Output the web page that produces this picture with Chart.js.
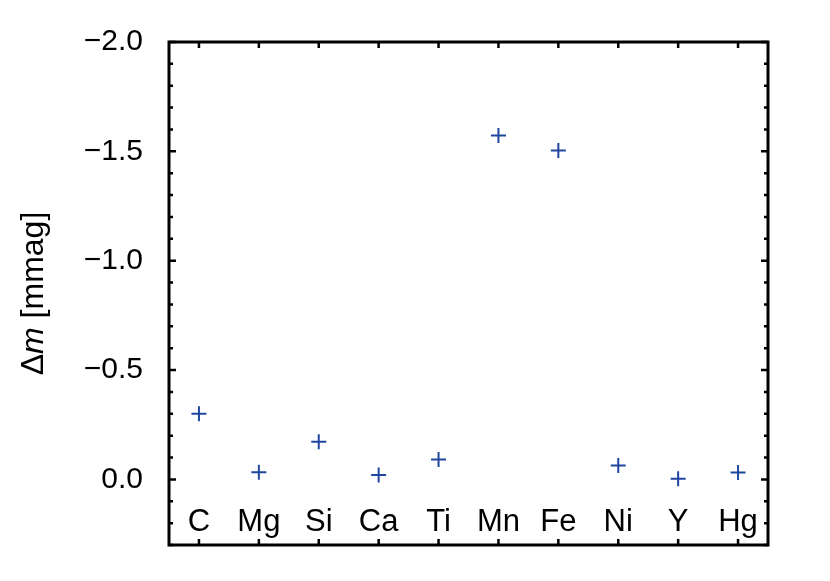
<!DOCTYPE html>
<html>
<head>
<meta charset="utf-8">
<script src="https://cdn.jsdelivr.net/npm/chart.js@4/dist/chart.umd.min.js"></script>
<style>
  html, body { margin: 0; padding: 0; background: #fff; overflow: hidden; }
  #wrap { width: 830px; height: 581px; }
</style>
</head>
<body>
<div id="wrap"><canvas id="myChart" width="830" height="581"></canvas></div>
<script>
// elements and their magnitude change (mmag)
var elements = ['C', 'Mg', 'Si', 'Ca', 'Ti', 'Mn', 'Fe', 'Ni', 'Y', 'Hg'];
var deltaMag = [-0.30, -0.033, -0.172, -0.020, -0.091, -1.573, -1.504, -0.063, -0.003, -0.031];
var yMajorTicks = [-2.0, -1.5, -1.0, -0.5, 0.0];
var yMin = -2.0;
var yMax = 0.3;

var fontName = "'Liberation Sans', Arial, Helvetica, sans-serif";
var markColor = '#1f47a0';

function fmt(v) {
  if (Math.abs(v) < 1e-9) return '0.0';
  return (v < 0 ? '\u2212' : '') + Math.abs(v).toFixed(1);
}

// frame, inward ticks, element labels inside the box, y title
var framePlugin = {
  id: 'frame',
  afterDraw: function (chart) {
    var ctx = chart.ctx;
    var a = chart.chartArea;
    var xs = chart.scales.x;
    var ys = chart.scales.y;
    ctx.save();
    ctx.strokeStyle = '#000';

    // ticks on y
    ctx.lineWidth = 2.5;
    yMajorTicks.forEach(function (v) {
      var y = ys.getPixelForValue(v);
      ctx.beginPath();
      ctx.moveTo(a.left, y); ctx.lineTo(a.left + 7, y);
      ctx.moveTo(a.right, y); ctx.lineTo(a.right - 7, y);
      ctx.stroke();
    });
    for (var k = -20; k <= 3; k++) {
      if (k % 5 === 0) continue;
      var y = ys.getPixelForValue(k / 10);
      ctx.beginPath();
      ctx.moveTo(a.left, y); ctx.lineTo(a.left + 4, y);
      ctx.moveTo(a.right, y); ctx.lineTo(a.right - 4, y);
      ctx.stroke();
    }
    // ticks on x
    elements.forEach(function (e, i) {
      var x = xs.getPixelForValue(i);
      ctx.beginPath();
      ctx.moveTo(x, a.top); ctx.lineTo(x, a.top + 6);
      ctx.moveTo(x, a.bottom); ctx.lineTo(x, a.bottom - 6);
      ctx.stroke();
    });

    // frame
    ctx.lineWidth = 3;
    ctx.strokeRect(a.left, a.top, a.right - a.left, a.bottom - a.top);

    // element names
    ctx.fillStyle = '#000';
    ctx.font = '31px ' + fontName;
    ctx.textAlign = 'center';
    ctx.textBaseline = 'alphabetic';
    elements.forEach(function (e, i) {
      ctx.fillText(e, xs.getPixelForValue(i), 531);
    });

    // y title: Δm [mmag], m in italics
    ctx.translate(43, (a.top + a.bottom) / 2);
    ctx.rotate(-Math.PI / 2);
    var parts = [['\u0394', 'normal'], ['m', 'italic'], [' [mmag]', 'normal']];
    var total = 0;
    parts.forEach(function (p) {
      ctx.font = p[1] + ' 32px ' + fontName;
      total += ctx.measureText(p[0]).width;
    });
    var x0 = -total / 2;
    ctx.textAlign = 'left';
    parts.forEach(function (p) {
      ctx.font = p[1] + ' 32px ' + fontName;
      ctx.fillText(p[0], x0, 0);
      x0 += ctx.measureText(p[0]).width;
    });
    ctx.restore();
  }
};

var myChart = document.getElementById('myChart').getContext('2d');
var chart = new Chart(myChart, {
  type: 'line',
  data: {
    labels: elements,
    datasets: [{
      label: 'dm',
      data: deltaMag,
      showLine: false,
      pointStyle: 'cross',
      pointRadius: 7.5,
      pointBorderWidth: 2,
      borderColor: markColor,
      backgroundColor: markColor
    }]
  },
  options: {
    responsive: false,
    animation: false,
    layout: { padding: { left: 0, top: 42, right: 62, bottom: 36 } },
    plugins: {
      legend: { display: false },
      tooltip: { enabled: false }
    },
    scales: {
      x: {
        type: 'category',
        offset: true,
        display: false
      },
      y: {
        reverse: true,
        min: yMin,
        max: yMax,
        grid: { display: false, drawTicks: false },
        border: { display: false },
        afterBuildTicks: function (axis) {
          axis.ticks = yMajorTicks.map(function (v) { return { value: v }; });
        },
        afterFit: function (axis) {
          axis.width = 169;
          axis.paddingTop = 0;
          axis.paddingBottom = 0;
        },
        ticks: {
          padding: 26,
          color: '#000',
          font: { family: fontName, size: 30 },
          callback: function (v) { return fmt(v); }
        }
      }
    }
  },
  plugins: [framePlugin]
});
</script>
</body>
</html>
